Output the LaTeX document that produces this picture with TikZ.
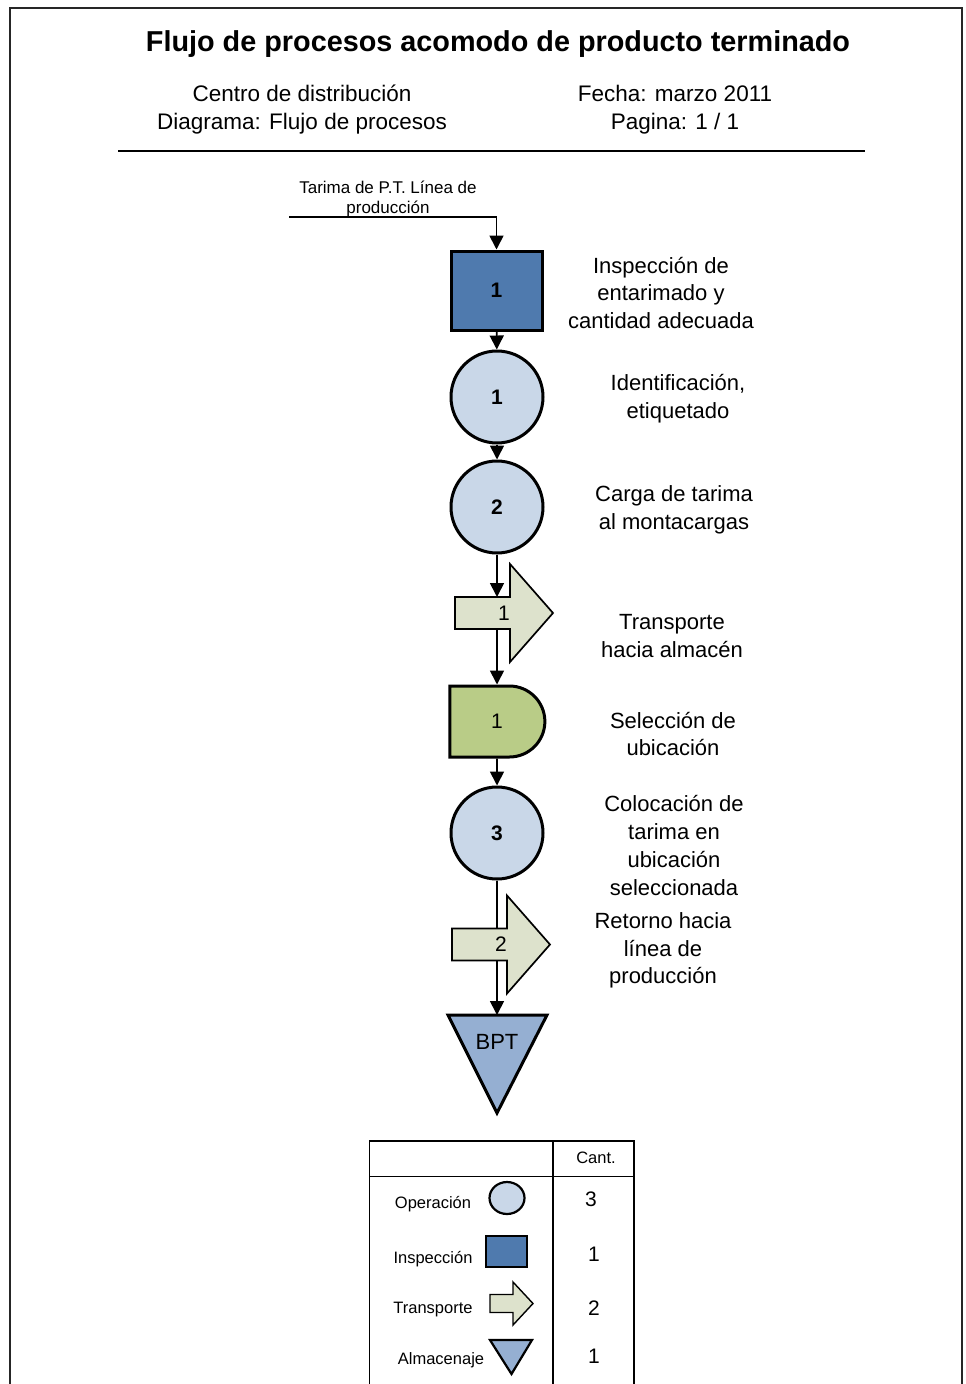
\documentclass[tikz,border=0pt]{standalone}
\usepackage{fontspec}
\setmainfont{Liberation Sans}
\usetikzlibrary{shapes.misc,shapes.geometric,arrows.meta}

\definecolor{inspblue}{HTML}{4F7AAE}
\definecolor{opblue}{HTML}{C9D7E8}
\definecolor{transgreen}{HTML}{DDE2CC}
\definecolor{delaygreen}{HTML}{B9CC87}
\definecolor{storeblue}{HTML}{95AFD2}

\tikzset{
  flow/.style={line width=1.7pt, -{Triangle[length=14pt,width=14pt]}},
  plainline/.style={line width=1.7pt},
  shp/.style={draw, line width=3pt, inner sep=0pt},
  numfont/.style={font=\fontsize{21}{21}\selectfont},
  inspection/.style={shp, rectangle, fill=inspblue, minimum width=91pt,
    minimum height=79pt, font=\fontsize{21}{21}\selectfont\bfseries},
  operation/.style={shp, circle, fill=opblue, minimum size=92pt,
    font=\fontsize{21}{21}\selectfont\bfseries},
  delay/.style={shp, rounded rectangle, rounded rectangle left arc=none,
    fill=delaygreen, minimum width=95pt, minimum height=71pt, numfont},
  transportbody/.style={draw, line width=1.7pt, fill=transgreen, line join=miter},
  storagebody/.style={draw, line width=3pt, fill=storeblue, line join=miter},
  desc/.style={align=center, font=\fontsize{22}{27.7}\selectfont},
  legtext/.style={font=\fontsize{16.5}{16.5}\selectfont},
  legnum/.style={font=\fontsize{21}{21}\selectfont},
  legshape/.style={draw, line width=2.2pt, inner sep=0pt},
}

% transport arrow: #1 name, #2 centre, #3 label
\newcommand\transportshape[3]{%
  \begin{scope}[shift={#2}]
    \draw[transportbody] (-49,-16) -- (6,-16) -- (6,-49) -- (49,0)
      -- (6,49) -- (6,16) -- (-49,16) -- cycle;
    \coordinate (#1-top) at (0,-16);
    \coordinate (#1-bot) at (0,16);
  \end{scope}
  \node[numfont] (#1) at #2 {#3};
}

\begin{document}
\begin{tikzpicture}[x=1pt,y=-1pt]
\useasboundingbox (0,0) rectangle (966,1384);

% page frame
\draw[line width=2pt, black!85] (9.5,1384) -- (9.5,8) -- (962,8) -- (962,1384);

% header
\node[font=\fontsize{28.8}{28.8}\selectfont\bfseries] (title) at (498,44.5)
  {Flujo de procesos acomodo de producto terminado};
\node[desc, font=\fontsize{22.5}{28}\selectfont] (hleft) at (302,109.5)
  {Centro de distribución\\Diagrama: Flujo de procesos};
\node[desc, font=\fontsize{22.5}{28}\selectfont] (hright) at (675,109.5)
  {Fecha: marzo 2011\\Pagina: 1 / 1};
\draw[line width=1.7pt] (118,151) -- (865,151);

% process chain
\node[align=center, font=\fontsize{17}{20}\selectfont] (src) at (388,199)
  {Tarima de P.T. Línea de\\producción};
\coordinate (in) at (289,217);

\node[inspection] (insp) at (496.5,290.5) {1};
\node[operation] (op1) at (497,397) {1};
\node[operation] (op2) at (497,507) {2};
\transportshape{tr1}{(504,613)}{1}
\node[delay] (dl) at (497,721.5) {1};
\node[operation] (op3) at (497,833) {3};
\transportshape{tr2}{(501,944.5)}{2}

\draw[storagebody] (448,1015) -- (547,1015) -- (497,1113) -- cycle;
\coordinate (bpt-top) at (497,1015);
\node[font=\fontsize{22}{22}\selectfont] (bpt) at (497,1042) {BPT};

% connectors
\draw[flow] (in) -| (insp.north);
\draw[flow] (insp) -- (op1);
\draw[flow] (op1) -- (op2);
\draw[flow] (op2.south) -- (op2.south |- tr1-top);
\draw[flow] (op2.south |- tr1-bot) -- (dl.north);
\draw[flow] (dl) -- (op3);
\draw[plainline] (op3.south) -- (op3.south |- tr2-top);
\draw[flow] (op3.south |- tr2-bot) -- (bpt-top);

% step descriptions
\node[desc] (d1) at (661,293) {Inspección de\\entarimado y\\cantidad adecuada};
\node[desc] (d2) at (678,398.5) {Identificación,\\etiquetado};
\node[desc] (d3) at (674,509.5) {Carga de tarima\\al montacargas};
\node[desc] (d4) at (672,636) {Transporte\\hacia almacén};
\node[desc] (d5) at (673,734) {Selección de\\ubicación};
\node[desc] (d6) at (674,845.5) {Colocación de\\tarima en\\ubicación\\seleccionada};
\node[desc] (d7) at (663,950.5) {Retorno hacia\\línea de\\producción};

% summary table
\draw[line width=1.7pt] (369.5,1384) -- (369.5,1141) -- (634,1141) -- (634,1384);
\draw[line width=1.7pt] (369.5,1176.5) -- (634,1176.5);
\draw[line width=1.7pt] (553,1141) -- (553,1384);
\node[legtext] (cant) at (596,1158) {Cant.};

\node[legtext] (lop) at (433,1204.5) {Operación};
\node[legshape, ellipse, fill=opblue, minimum width=35pt, minimum height=32pt]
  (sop) at (507,1198) {};
\node[legnum] (nop) at (591,1199) {3};

\node[legtext] (lin) at (433,1259.5) {Inspección};
\node[legshape, rectangle, fill=inspblue, minimum width=41pt, minimum height=31pt]
  (sin) at (506.5,1251.5) {};
\node[legnum] (nin) at (594,1254) {1};

\node[legtext] (ltr) at (433,1309.5) {Transporte};
\begin{scope}[shift={(511.5,1303.5)}]
  \draw[transportbody, line width=1.4pt] (-21.5,-9) -- (1.5,-9) -- (1.5,-21.5) -- (21.5,0)
    -- (1.5,21.5) -- (1.5,9) -- (-21.5,9) -- cycle;
\end{scope}
\coordinate (str) at (511.5,1303.5);
\node[legnum] (ntr) at (594,1308) {2};

\node[legtext] (lal) at (441,1360.5) {Almacenaje};
\draw[storagebody, line width=2.2pt] (490,1340) -- (532,1340) -- (511.5,1374) -- cycle;
\coordinate (sal) at (511.5,1352);
\node[legnum] (nal) at (594,1356) {1};
\end{tikzpicture}
\end{document}
